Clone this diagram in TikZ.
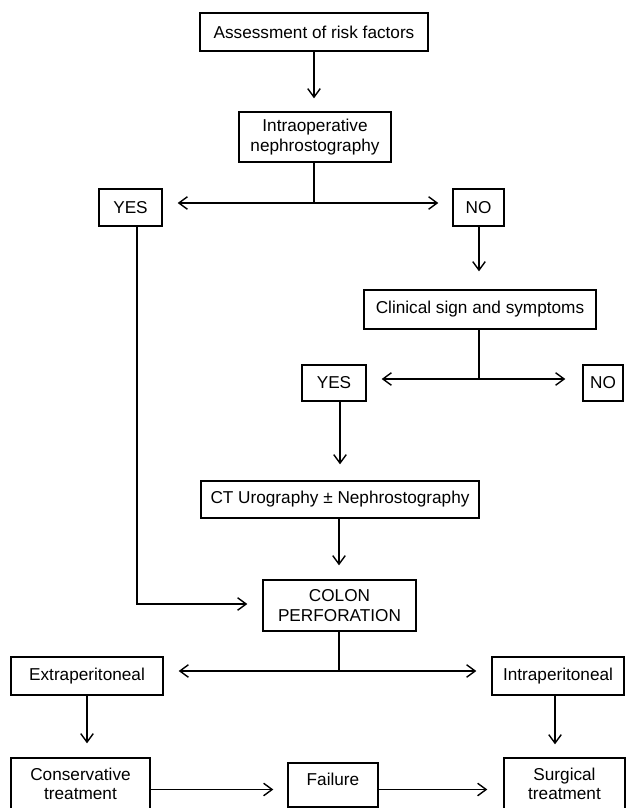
\documentclass[tikz,border=0pt]{standalone}
\usepackage{fontspec}
\setmainfont{Liberation Sans}
\usetikzlibrary{arrows.meta}
\begin{document}
\begin{tikzpicture}[x=1pt,y=-1pt,
  box/.style={draw, line width=1.4pt, rectangle, inner sep=0pt, align=center,
    font=\fontsize{17.2}{19.5}\selectfont},
  ln/.style={line width=1.4pt},
  arr/.style={line width=1.4pt, -{Straight Barb[length=8.5pt,width=12.5pt]}}]
\useasboundingbox (0,0) rectangle (626,808);
\clip (0,0) rectangle (626,808);
% boxes
\node[box, minimum width=228pt, minimum height=38pt] (a1) at (314,32) {Assessment of risk factors};
\node[box, minimum width=152pt, minimum height=50pt] (a2) at (315,137) {Intraoperative\\nephrostography};
\node[box, minimum width=63pt, minimum height=37pt] (yes1) at (130.5,207.5) {YES};
\node[box, minimum width=51pt, minimum height=37pt] (no1) at (478.5,207.5) {NO};
\node[box, minimum width=232pt, minimum height=39pt] (clin) at (480,309.5) {Clinical sign and symptoms};
\node[box, minimum width=64pt, minimum height=36pt] (yes2) at (334,383) {YES};
\node[box, minimum width=40pt, minimum height=36pt] (no2) at (603,383) {NO};
\node[box, minimum width=278pt, minimum height=37pt] (ct) at (340,499.5) {CT Urography ± Nephrostography};
\node[box, minimum width=153pt, minimum height=51pt] (colon) at (339.5,605.5) {COLON\\PERFORATION};
\node[box, minimum width=152pt, minimum height=38pt] (extra) at (87,676) {Extraperitoneal};
\node[box, minimum width=132pt, minimum height=38pt] (intra) at (558,676) {Intraperitoneal};
\node[box, minimum width=139pt, minimum height=52pt] (cons) at (80.5,784) {Conservative\\treatment};
\node[box, minimum width=90pt, minimum height=44pt, text depth=12pt] (fail) at (333,785) {Failure};
\node[box, minimum width=121pt, minimum height=52pt] (surg) at (564.5,784) {Surgical\\treatment};
% coordinates
\coordinate (j1) at (314,203);
\coordinate (y1) at (137,604);
\coordinate (j2) at (479,379);
\coordinate (j3) at (339,671);
\coordinate (i1) at (555,700);
\coordinate (f1) at (200,789.5);
% connectors
\draw[arr, shorten >=13pt] (a1.south) -- (a1.south |- a2.north);
\draw[ln] (a2.south -| j1) -- (j1);
\draw[arr, shorten >=15pt] (j1) -- (j1 -| yes1.east);
\draw[arr, shorten >=14pt] (j1) -- (j1 -| no1.west);
\draw[arr, shorten >=15pt] (yes1.south -| y1) -- (y1) -- (y1 -| colon.west);
\draw[arr, shorten >=18pt] (no1.south -| j2) -- (j2 |- clin.north);
\draw[ln] (clin.south -| j2) -- (j2);
\draw[arr, shorten >=15pt] (j2) -- (j2 -| yes2.east);
\draw[arr, shorten >=17pt] (j2) -- (j2 -| no2.west);
\draw[arr, shorten >=16pt] (yes2.south -| ct.north) -- (ct.north);
\draw[arr, shorten >=14pt] (ct.south -| j3) -- (j3 |- colon.north);
\draw[ln] (colon.south -| j3) -- (j3);
\draw[arr, shorten >=15pt] (j3) -- (j3 -| extra.east);
\draw[arr, shorten >=15pt] (j3) -- (j3 -| intra.west);
\draw[arr, shorten >=14pt] (extra.south) -- (extra.south |- cons.north);
\draw[arr, shorten >=13pt] (intra.south -| i1) -- (i1 |- surg.north);
\draw[arr, shorten >=14pt] (cons.east |- f1) -- (f1 -| fail.west);
\draw[arr, shorten >=16pt] (fail.east |- f1) -- (f1 -| surg.west);
\end{tikzpicture}
\end{document}
